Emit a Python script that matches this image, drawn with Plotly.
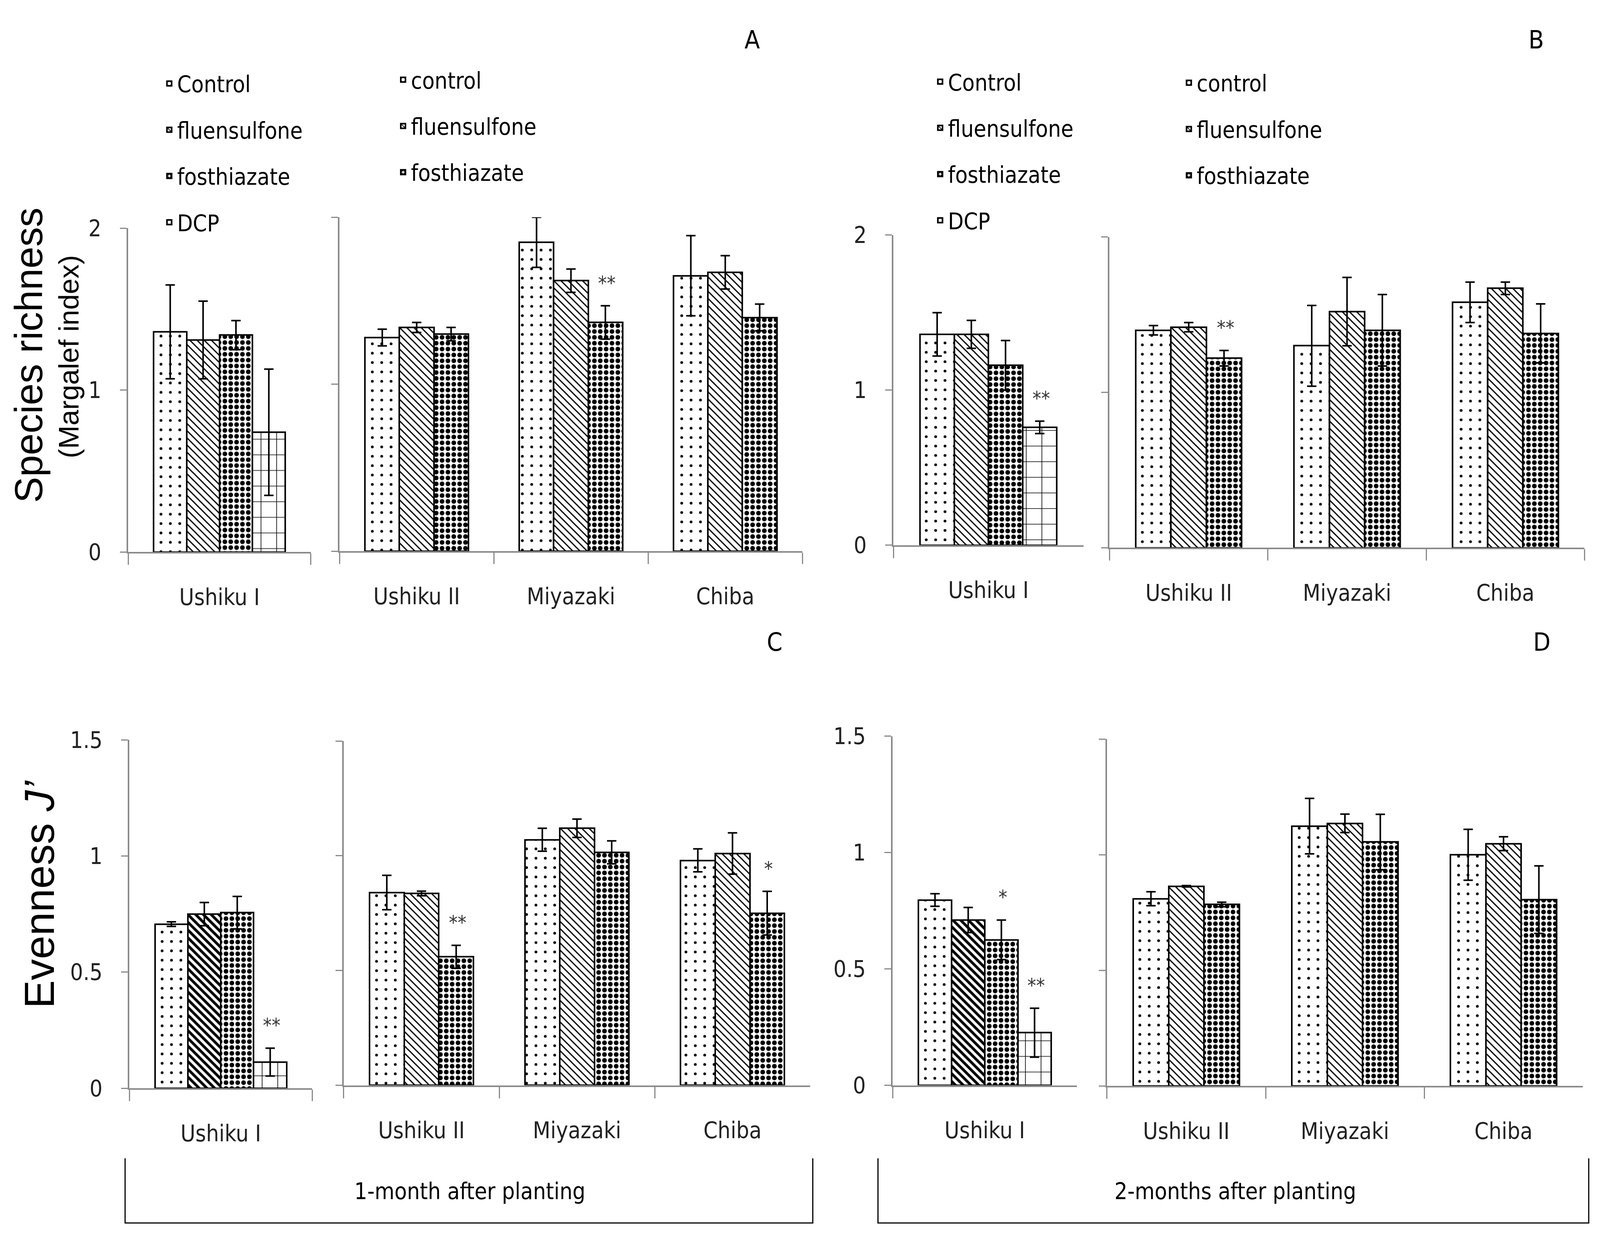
import plotly.graph_objects as go

# reference geometry is expressed in reference pixels (5671 x 3213) and
# converted to paper fractions, so the figure can fill any viewport
RW, RH = 5671, 3213

# ---------------- data ----------------
series_left = ["Control", "fluensulfone", "fosthiazate", "DCP"]
series_right = ["control", "fluensulfone", "fosthiazate"]
site_left = ["Ushiku I"]
sites_right = ["Ushiku II", "Miyazaki", "Chiba"]

# Panel A: species richness, 1 month after planting
a_ushiku1_mean = [1.36, 1.31, 1.34, 0.74]
a_ushiku1_err = [0.29, 0.24, 0.09, 0.39]
a_control_mean = [1.28, 1.85, 1.65]
a_control_err = [0.05, 0.15, 0.24]
a_fluensulfone_mean = [1.34, 1.62, 1.67]
a_fluensulfone_err = [0.03, 0.07, 0.10]
a_fosthiazate_mean = [1.30, 1.37, 1.40]
a_fosthiazate_err = [0.04, 0.10, 0.08]

# Panel B: species richness, 2 months after planting
b_ushiku1_mean = [1.36, 1.36, 1.16, 0.76]
b_ushiku1_err = [0.14, 0.09, 0.16, 0.04]
b_control_mean = [1.40, 1.30, 1.58]
b_control_err = [0.03, 0.26, 0.13]
b_fluensulfone_mean = [1.42, 1.52, 1.67]
b_fluensulfone_err = [0.03, 0.22, 0.04]
b_fosthiazate_mean = [1.22, 1.40, 1.38]
b_fosthiazate_err = [0.05, 0.23, 0.19]

# Panel C: evenness, 1 month after planting
c_ushiku1_mean = [0.707, 0.75, 0.756, 0.113]
c_ushiku1_err = [0.01, 0.05, 0.07, 0.06]
c_control_mean = [0.84, 1.07, 0.98]
c_control_err = [0.075, 0.05, 0.05]
c_fluensulfone_mean = [0.836, 1.12, 1.01]
c_fluensulfone_err = [0.01, 0.04, 0.09]
c_fosthiazate_mean = [0.56, 1.015, 0.75]
c_fosthiazate_err = [0.05, 0.05, 0.095]

# Panel D: evenness, 2 months after planting
d_ushiku1_mean = [0.796, 0.71, 0.625, 0.226]
d_ushiku1_err = [0.027, 0.054, 0.085, 0.105]
d_control_mean = [0.81, 1.124, 1.00]
d_control_err = [0.03, 0.12, 0.11]
d_fluensulfone_mean = [0.864, 1.136, 1.048]
d_fluensulfone_err = [0.003, 0.04, 0.03]
d_fosthiazate_mean = [0.785, 1.055, 0.806]
d_fosthiazate_err = [0.01, 0.12, 0.146]

# significance marks: (panel, side, site index, series index, mark)
sig_marks = [
    ("A", "right", 1, 2, "**"),
    ("B", "left", 0, 3, "**"),
    ("B", "right", 0, 2, "**"),
    ("C", "left", 0, 3, "**"),
    ("C", "right", 0, 2, "**"),
    ("C", "right", 2, 2, "*"),
    ("D", "left", 0, 2, "*"),
    ("D", "left", 0, 3, "**"),
]

y_ticks_rich = [0, 1, 2]
y_ticks_even = [0, 0.5, 1, 1.5]
panel_titles = ["1-month after planting", "2-months after planting"]


def PX(x):
    return x / RW


def PY(y):
    return 1 - y / RH


# ---------------- styling ----------------
NARROW = "DejaVu Sans Condensed, Liberation Sans Narrow, Arial Narrow, sans-serif"
SANS = "Liberation Sans, Arial, sans-serif"
AXIS_COLOR = "#8a8a8a"
TXT = 58

PAT = {
    "control": dict(shape=".", size=24, solidity=0.07),
    "flu": dict(shape="\\", size=13, solidity=0.25),
    "flu_dense": dict(shape="\\", size=14, solidity=0.5),
    "fos": dict(shape=".", size=15, solidity=0.5),
    "dcp": dict(shape="+", size=40, solidity=0.08),
}

# subplot geometry in reference pixels: x0, x1, y of zero, y of top, top value
geom = {
    ("A", "left"): (445, 1095, 1408, 557, 2),
    ("A", "right"): (1197, 2844, 1406, 528, 2),
    ("B", "left"): (3168, 3844, 1390, 575, 2),
    ("B", "right"): (3937, 5627, 1397, 580, 2),
    ("C", "left"): (449, 1100, 2818, 1902, 1.5),
    ("C", "right"): (1212, 2872, 2810, 1905, 1.5),
    ("D", "left"): (3165, 3821, 2810, 1892, 1.5),
    ("D", "right"): (3928, 5621, 2812, 1900, 1.5),
}

panel_data = {
    "A": (a_ushiku1_mean, a_ushiku1_err,
          [a_control_mean, a_fluensulfone_mean, a_fosthiazate_mean],
          [a_control_err, a_fluensulfone_err, a_fosthiazate_err]),
    "B": (b_ushiku1_mean, b_ushiku1_err,
          [b_control_mean, b_fluensulfone_mean, b_fosthiazate_mean],
          [b_control_err, b_fluensulfone_err, b_fosthiazate_err]),
    "C": (c_ushiku1_mean, c_ushiku1_err,
          [c_control_mean, c_fluensulfone_mean, c_fosthiazate_mean],
          [c_control_err, c_fluensulfone_err, c_fosthiazate_err]),
    "D": (d_ushiku1_mean, d_ushiku1_err,
          [d_control_mean, d_fluensulfone_mean, d_fosthiazate_mean],
          [d_control_err, d_fluensulfone_err, d_fosthiazate_err]),
}

W_LEFT = 0.18
W_RIGHT = 0.223

fig = go.Figure()
layout_axes = {}
annotations = []

legend_map = {("A", "left"): "legend", ("A", "right"): "legend2",
              ("B", "left"): "legend3", ("B", "right"): "legend4"}

ax_i = 0
for panel in ["A", "B", "C", "D"]:
    u_mean, u_err, r_means, r_errs = panel_data[panel]
    for side in ["left", "right"]:
        ax_i += 1
        xname = "x" if ax_i == 1 else f"x{ax_i}"
        yname = "y" if ax_i == 1 else f"y{ax_i}"
        x0, x1, yz, yt, ymax = geom[(panel, side)]
        cats = site_left if side == "left" else sites_right
        names = series_left if side == "left" else series_right
        bw = W_LEFT if side == "left" else W_RIGHT
        n = len(names)
        legend = legend_map.get((panel, side))
        for i, name in enumerate(names):
            if side == "left":
                yv = [u_mean[i]]
                ev = [u_err[i]]
            else:
                yv = r_means[i]
                ev = r_errs[i]
            key = ["control", "flu", "fos", "dcp"][i]
            if key == "flu" and side == "left" and panel in ("C", "D"):
                key = "flu_dense"
            p = PAT[key]
            tr = go.Bar(
                x=cats, y=yv, name=name,
                xaxis=xname, yaxis=yname,
                width=bw, offset=-n * bw / 2 + i * bw,
                marker=dict(color="white",
                            line=dict(color="black", width=4),
                            pattern=dict(shape=p["shape"], size=p["size"],
                                         solidity=p["solidity"],
                                         fgcolor="black", bgcolor="white",
                                         fillmode="replace")),
                error_y=dict(type="data", array=ev, visible=True,
                             color="black", thickness=4, width=12),
                showlegend=legend is not None,
                legendgroup=f"{panel}{side}{i}",
            )
            if legend is not None:
                tr.legend = legend
            fig.add_trace(tr)

        # significance marks
        for (pp, ss, ci, si, mk) in sig_marks:
            if pp == panel and ss == side:
                if side == "left":
                    top = u_mean[si] + u_err[si]
                else:
                    top = r_means[si][ci] + r_errs[si][ci]
                annotations.append(dict(
                    x=ci - n * bw / 2 + si * bw + bw / 2, y=top,
                    xref=xname, yref=yname, text=mk, showarrow=False,
                    xanchor="center", yanchor="middle", yshift=58, xshift=4,
                    font=dict(family=NARROW, size=50, color="#333333")))

        ticks = y_ticks_rich if ymax == 2 else y_ticks_even
        layout_axes["xaxis" if ax_i == 1 else f"xaxis{ax_i}"] = dict(
            domain=[PX(x0), PX(x1)], anchor=yname, type="category",
            range=[-0.5, len(cats) - 0.5], showline=True, linecolor=AXIS_COLOR,
            linewidth=4, ticks="outside", tickson="boundaries", ticklen=29,
            tickwidth=3, tickcolor=AXIS_COLOR, showgrid=False, zeroline=False,
            tickfont=dict(family=NARROW, size=TXT, color="#222222"),
            ticklabelstandoff=62, fixedrange=True)
        layout_axes["yaxis" if ax_i == 1 else f"yaxis{ax_i}"] = dict(
            domain=[PY(yz), PY(yt)], anchor=xname,
            range=[0, ymax], tickvals=ticks, showline=True,
            linecolor=AXIS_COLOR, linewidth=4, ticks="outside", ticklen=17,
            tickwidth=3, tickcolor=AXIS_COLOR, showgrid=False, zeroline=False,
            showticklabels=(side == "left"),
            tickfont=dict(family=NARROW, size=TXT, color="#222222"),
            ticklabelstandoff=36, fixedrange=True)

# panel letters
for letter, px, py in [("A", 2665, 62), ("B", 5455, 62), ("C", 2745, 1645), ("D", 5475, 1645)]:
    annotations.append(dict(x=PX(px), y=PY(py), xref="paper", yref="paper",
                            text=letter, showarrow=False, xanchor="center", yanchor="middle",
                            font=dict(family=NARROW, size=64, color="black")))

# y titles
annotations += [
    dict(x=PX(90), y=PY(891), xref="paper", yref="paper", text="Species richness",
         textangle=-90, showarrow=False, xanchor="center", yanchor="middle",
         font=dict(family=SANS, size=100, color="black")),
    dict(x=PX(233), y=PY(895), xref="paper", yref="paper", text="(Margalef index)",
         textangle=-90, showarrow=False, xanchor="center", yanchor="middle",
         font=dict(family=SANS, size=72, color="black")),
    dict(x=PX(129), y=PY(2308), xref="paper", yref="paper", text="Evenness <i>J’</i>",
         textangle=-90, showarrow=False, xanchor="center", yanchor="middle",
         font=dict(family=SANS, size=108, color="black")),
]

# brackets with period labels
shapes = []
for (bx0, bx1, label, tx) in [(434, 2881, panel_titles[0], 1661),
                              (3113, 5642, panel_titles[1], 4384)]:
    by0, by1 = 3002, 3172
    shapes.append(dict(type="path", xref="paper", yref="paper",
                       path=(f"M {PX(bx0)},{PY(by0)} L {PX(bx0)},{PY(by1)} "
                             f"L {PX(bx1)},{PY(by1)} L {PX(bx1)},{PY(by0)}"),
                       line=dict(color="black", width=3)))
    annotations.append(dict(x=PX(tx), y=PY(3089), xref="paper", yref="paper",
                            text=label, showarrow=False, xanchor="center", yanchor="middle",
                            font=dict(family=NARROW, size=TXT, color="black")))

leg_common = dict(bgcolor="rgba(0,0,0,0)", font=dict(family=NARROW, size=TXT, color="black"),
                  xanchor="left", yanchor="top", traceorder="grouped", tracegroupgap=40,
                  itemwidth=30)
fig.update_layout(
    margin=dict(l=0, r=0, t=0, b=0),
    paper_bgcolor="white", plot_bgcolor="white",
    barmode="overlay", bargap=0,
    annotations=annotations, shapes=shapes,
    legend=dict(x=PX(627) - 0.0112, y=PY(131), **leg_common),
    legend2=dict(x=PX(1459) - 0.0112, y=PY(121), **leg_common),
    legend3=dict(x=PX(3370) - 0.0112, y=PY(126), **leg_common),
    legend4=dict(x=PX(4255) - 0.0112, y=PY(129), **leg_common),
    **layout_axes,
)

fig.write_html("out.html")
